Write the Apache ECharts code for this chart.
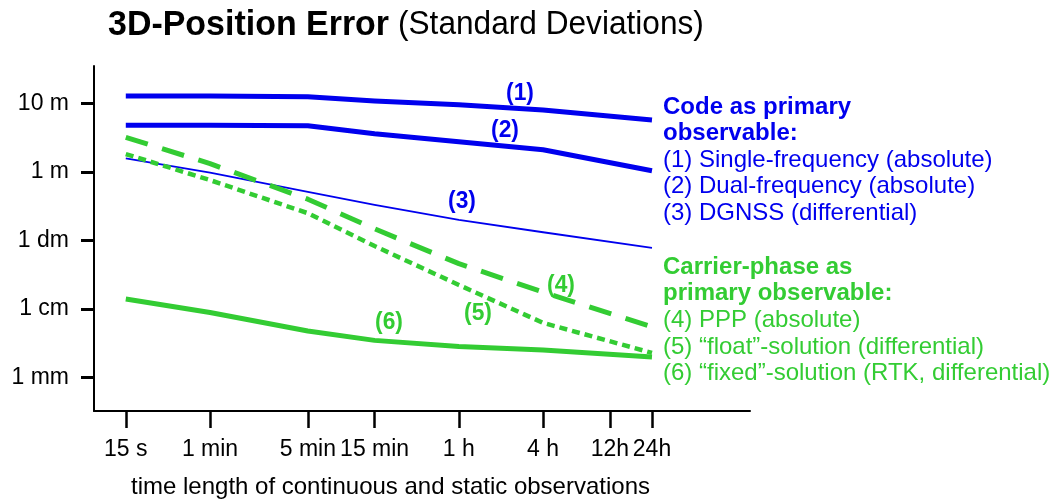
<!DOCTYPE html>
<html>
<head>
<meta charset="utf-8">
<script src="https://cdn.jsdelivr.net/npm/echarts@6/dist/echarts.min.js"></script>
<style>
html,body{margin:0;padding:0;background:#fff;}
#chart{width:1058px;height:499px;}
</style>
</head>
<body>
<div id="chart"></div>
<script>
// ---- data ----
const xTickSeconds = [15, 60, 300, 900, 3600, 14400, 43200, 86400];
const xTickLabels = ['15 s', '1 min', '5 min', '15 min', '1 h', '4 h', '12h', '24h'];
const yTickMeters = [0.001, 0.01, 0.1, 1, 10];
const yTickLabels = ['1 mm', '1 cm', '1 dm', '1 m', '10 m'];

const sampleSeconds = [15, 60, 300, 900, 3600, 14400, 86400];
const singleFreq = [12.8, 12.8, 12.5, 10.8, 9.5, 8.0, 5.7];
const dualFreq   = [4.8, 4.8, 4.7, 3.6, 2.75, 2.1, 1.04];
const dgnss      = [1.58, 0.98, 0.51, 0.33, 0.20, 0.132, 0.078];
const ppp        = [3.2, 1.32, 0.40, 0.148, 0.046, 0.0177, 0.0055];
const floatSol   = [1.82, 0.76, 0.25, 0.083, 0.0225, 0.0063, 0.0023];
const fixedSol   = [0.014, 0.0089, 0.0048, 0.0035, 0.00285, 0.00253, 0.0020];

const seriesNames = ['(1)', '(2)', '(3)', '(4)', '(5)', '(6)'];
const titleBold = '3D-Position Error';
const titleNormal = '(Standard Deviations)';
const xAxisTitle = 'time length of continuous and static observations';
const codeHeading = ['Code as primary', 'observable:'];
const codeLegend = ['(1) Single-frequency (absolute)', '(2) Dual-frequency (absolute)', '(3) DGNSS (differential)'];
const phaseHeading = ['Carrier-phase as', 'primary observable:'];
const phaseLegend = ['(4) PPP (absolute)', '(5) \u201cfloat\u201d-solution (differential)', '(6) \u201cfixed\u201d-solution (RTK, differential)'];

// ---- styles ----
const BLUE = '#0000ee';
const GREEN = '#33cc33';
const FONT = "'Liberation Sans', Arial, sans-serif";

function pairs(vals) { return sampleSeconds.map((s, i) => [s, vals[i]]); }
function nearestLabel(v, ticks, labels) {
  for (let i = 0; i < ticks.length; i++) {
    if (Math.abs(Math.log10(v / ticks[i])) < 0.01) return labels[i];
  }
  return '';
}

const chart = echarts.init(document.getElementById('chart'), null, {renderer: 'canvas'});

function lineSeries(name, vals, color, width, type) {
  return {
    name: name, type: 'line', data: pairs(vals), symbol: 'none', smooth: false,
    lineStyle: {color: color, width: width, type: type, cap: 'butt', join: 'round'},
    silent: true, z: 3
  };
}

function txt(x, y, text, color, bold, size, align, scaleX) {
  return {
    type: 'text', x: x, y: y, silent: true, scaleX: scaleX || 1,
    style: {
      text: text, fill: color, align: align || 'left', verticalAlign: 'middle',
      font: (bold ? 'bold ' : '') + size + 'px ' + FONT
    }
  };
}

const graphics = [];
// title
graphics.push(txt(108, 25, titleBold, '#000', true, 35, 'left', 0.97));
graphics.push(txt(398, 25, titleNormal, '#000', false, 34, 'left', 0.93));
// line labels
const lineLabelPos = [[520, 93], [505, 130], [462, 201], [561, 285], [478, 313], [389, 322]];
seriesNames.forEach((n, i) => {
  graphics.push(txt(lineLabelPos[i][0], lineLabelPos[i][1], n, i < 3 ? BLUE : GREEN, true, 24, 'center', 0.95));
});
// right-hand explanation
codeHeading.forEach((t, i) => graphics.push(txt(663, 107 + i * 26.5, t, BLUE, true, 24)));
codeLegend.forEach((t, i) => graphics.push(txt(663, 160 + i * 26.5, t, BLUE, false, 24)));
phaseHeading.forEach((t, i) => graphics.push(txt(663, 267 + i * 26.5, t, GREEN, true, 24)));
phaseLegend.forEach((t, i) => graphics.push(txt(663, 320.5 + i * 26.5, t, GREEN, false, 24)));
// x axis title
graphics.push(txt(131, 487, xAxisTitle, '#000', false, 24));

chart.setOption({
  animation: false,
  backgroundColor: '#fff',
  grid: {left: 94, top: 66, right: 308, bottom: 88, containLabel: false},
  xAxis: {
    type: 'log', logBase: 10, min: 8.89, max: 433500,
    axisLine: {show: true, lineStyle: {color: '#000', width: 2}},
    axisTick: {show: true, customValues: xTickSeconds, length: 17, lineStyle: {color: '#000', width: 2.5}},
    minorTick: {show: false},
    splitLine: {show: false},
    axisLabel: {
      customValues: xTickSeconds, margin: 27,
      color: '#000', fontSize: 23, fontFamily: FONT,
      formatter: v => nearestLabel(v, xTickSeconds, xTickLabels)
    }
  },
  yAxis: {
    type: 'log', logBase: 10, min: 3.27e-4, max: 35,
    axisLine: {show: true, lineStyle: {color: '#000', width: 2}},
    axisTick: {show: true, customValues: yTickMeters, length: 13, lineStyle: {color: '#000', width: 3}},
    minorTick: {show: false},
    splitLine: {show: false},
    axisLabel: {
      customValues: yTickMeters, margin: 25,
      color: '#000', fontSize: 23, fontFamily: FONT,
      formatter: v => nearestLabel(v, yTickMeters, yTickLabels)
    }
  },
  series: [
    lineSeries(seriesNames[0], singleFreq, BLUE, 5, 'solid'),
    lineSeries(seriesNames[1], dualFreq, BLUE, 5, 'solid'),
    lineSeries(seriesNames[2], dgnss, BLUE, 1.8, 'solid'),
    lineSeries(seriesNames[3], ppp, GREEN, 5, [23, 15]),
    lineSeries(seriesNames[4], floatSol, GREEN, 4.5, [8, 5]),
    lineSeries(seriesNames[5], fixedSol, GREEN, 5, 'solid')
  ],
  graphic: graphics
});
</script>
</body>
</html>
